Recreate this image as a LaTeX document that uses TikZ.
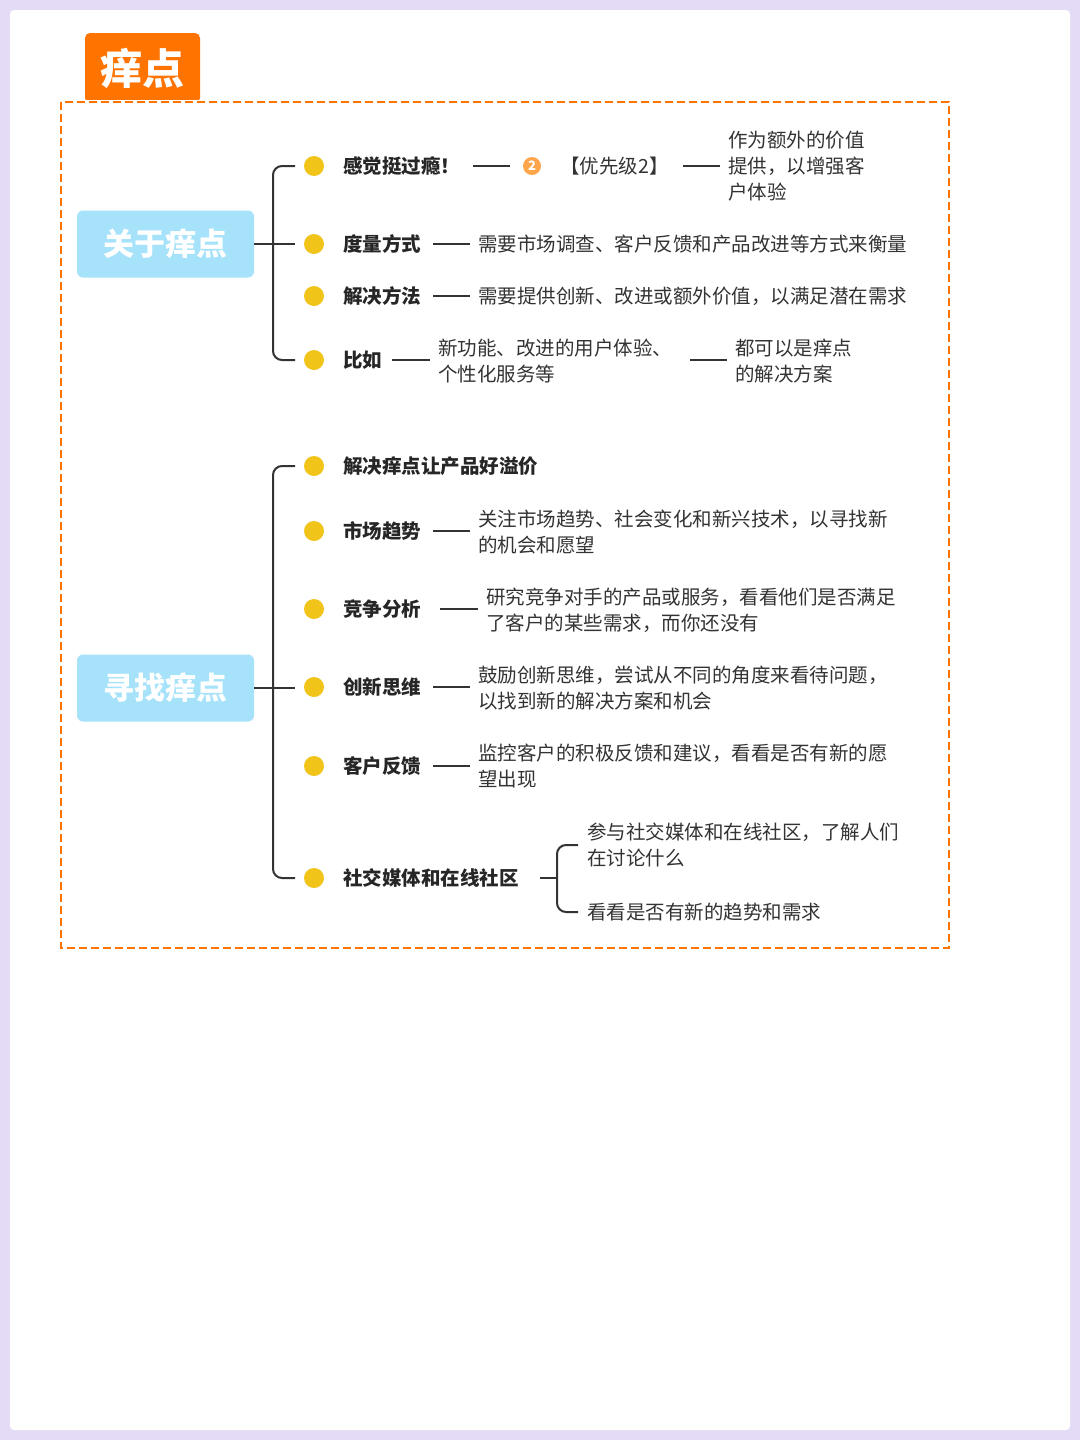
\documentclass[tikz,border=0pt]{standalone}
\usepackage{fontspec}
\setmainfont{Noto Sans CJK SC}
\definecolor{gold}{HTML}{F0C419}
\definecolor{lav}{HTML}{E4DCF6}
\begin{document}
\begin{tikzpicture}[x=1pt,y=-1pt,
  lab/.style={anchor=west,inner sep=0pt,font=\fontsize{19.5}{26}\selectfont\bfseries,text=black!85},
  txt/.style={anchor=west,inner sep=0pt,align=left,font=\fontsize{19.5}{26}\selectfont,text=black!80},
  br/.style={line width=2pt,black!80,rounded corners=9pt},
  cn/.style={line width=1.6pt,black!80},
  dot/.style={circle,fill=gold,minimum size=20pt,inner sep=0pt},
  big/.style={fill=cyan!35!white,rounded corners=6pt,minimum width=177pt,minimum height=67pt,text=white,font=\fontsize{31}{31}\selectfont\bfseries}]
\useasboundingbox (0,0) rectangle (1080,1440);
\fill[lav] (0,0) rectangle (1080,1440);
\fill[white,rounded corners=4pt] (10,10) rectangle (1070,1430);
\node[fill=orange!90!red,rounded corners=5pt,minimum width=115pt,minimum height=70pt,text=white,font=\fontsize{42}{42}\selectfont\bfseries] (tab) at (142.5,68) {痒点};
\fill[white] (60,100) rectangle (950,108);
\draw[orange!90!red,line width=2.5pt,dash pattern=on 8pt off 4pt] (61,102) rectangle (949,948);
% group 1
\node[big] (g1) at (165.5,244) {关于痒点};
\draw[br] (295,166) -| (273,360) -- (295,360);
\draw[br] (g1.east) -- (295,244);
\foreach \y/\n in {166/a,244/b,296/c,360/d} \node[dot] (d\n) at (314,\y) {};
\node[lab] (l1) at (343,166) {感觉挺过瘾！};
\coordinate (p1) at (473,166); \coordinate (p2) at (510,166);
\draw[cn] (p1) -- (p2);
\node[circle,fill=orange!70,inner sep=0pt,minimum size=18pt,text=white,font=\fontsize{13}{13}\selectfont\bfseries] (pr) at (532,166) {2};
\node[txt] (pt) at (560,166) {【优先级2】};
\coordinate (p3) at (683,166); \coordinate (p4) at (720,166);
\draw[cn] (p3) -- (p4);
\node[txt] (t1) at (728,166) {作为额外的价值\\提供，以增强客\\户体验};
\node[lab] (l2) at (343,244) {度量方式};
\coordinate (q1) at (433,244); \coordinate (q2) at (470,244);
\draw[cn] (q1) -- (q2);
\node[txt] (t2) at (478,244) {需要市场调查、客户反馈和产品改进等方式来衡量};
\node[lab] (l3) at (343,296) {解决方法};
\coordinate (r1) at (433,296); \coordinate (r2) at (470,296);
\draw[cn] (r1) -- (r2);
\node[txt] (t3) at (478,296) {需要提供创新、改进或额外价值，以满足潜在需求};
\node[lab] (l4) at (343,360) {比如};
\coordinate (s1) at (392,360); \coordinate (s2) at (430,360);
\draw[cn] (s1) -- (s2);
\node[txt] (t4) at (438,361) {新功能、改进的用户体验、\\个性化服务等};
\coordinate (s3) at (690,360); \coordinate (s4) at (727,360);
\draw[cn] (s3) -- (s4);
\node[txt] (t5) at (735,361) {都可以是痒点\\的解决方案};
% group 2
\node[big] (g2) at (165.5,688) {寻找痒点};
\draw[br] (295,466) -| (273,878) -- (295,878);
\draw[br] (g2.east) -- (295,688);
\foreach \y/\n in {466/e,531/f,609/g,687/h,766/i,878/j} \node[dot] (d\n) at (314,\y) {};
\node[lab] (m1) at (343,466) {解决痒点让产品好溢价};
\node[lab] (m2) at (343,531) {市场趋势};
\coordinate (u1) at (433,531); \coordinate (u2) at (470,531);
\draw[cn] (u1) -- (u2);
\node[txt] (n2) at (478,532) {关注市场趋势、社会变化和新兴技术，以寻找新\\的机会和愿望};
\node[lab] (m3) at (343,609) {竞争分析};
\coordinate (v1) at (440,609); \coordinate (v2) at (478,609);
\draw[cn] (v1) -- (v2);
\node[txt] (n3) at (486,610) {研究竞争对手的产品或服务，看看他们是否满足\\了客户的某些需求，而你还没有};
\node[lab] (m4) at (343,687) {创新思维};
\coordinate (w1) at (433,687); \coordinate (w2) at (470,687);
\draw[cn] (w1) -- (w2);
\node[txt] (n4) at (478,688) {鼓励创新思维，尝试从不同的角度来看待问题，\\以找到新的解决方案和机会};
\node[lab] (m5) at (343,766) {客户反馈};
\coordinate (x1) at (433,766); \coordinate (x2) at (470,766);
\draw[cn] (x1) -- (x2);
\node[txt] (n5) at (478,766) {监控客户的积极反馈和建议，看看是否有新的愿\\望出现};
\node[lab] (m6) at (343,878) {社交媒体和在线社区};
\coordinate (y1) at (540,878); \coordinate (y2) at (557,878);
\draw[cn] (y1) -- (y2);
\draw[br] (578,845) -| (557,912) -- (578,912);
\node[txt] (n6) at (587,845) {参与社交媒体和在线社区，了解人们\\在讨论什么};
\node[txt] (n7) at (587,912) {看看是否有新的趋势和需求};
\end{tikzpicture}
\end{document}
